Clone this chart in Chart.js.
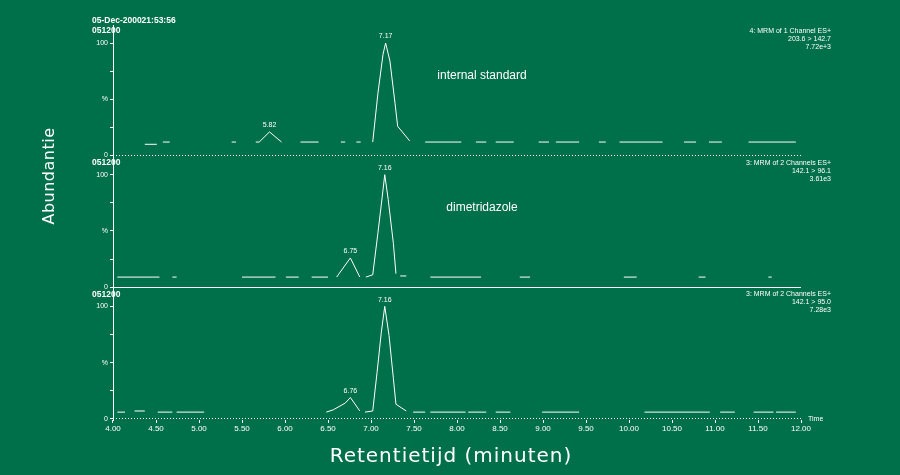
<!DOCTYPE html>
<html>
<head>
<meta charset="utf-8">
<title>Chromatogram</title>
<script src="https://cdn.jsdelivr.net/npm/chart.js@4.4.1/dist/chart.umd.min.js"></script>
<style>
  html, body { margin: 0; padding: 0; background: #00704a; }
  #wrap { position: relative; width: 900px; height: 475px; }
</style>
</head>
<body>
<div id="wrap"><canvas id="myChart" width="900" height="475"></canvas></div>
<script>
var G = null; // gap in a trace

// top trace: internal standard (times in minutes, abundance in %)
var times1 = [4.37, 4.51, G, 4.58, 4.66, G, 5.38, 5.43, G, 5.66, 5.70, 5.82, 5.96, G,
    6.18, 6.39, G, 6.65, 6.70, G, 6.83, 6.88, G,
    7.02, 7.08, 7.14, 7.17, 7.22, 7.28, 7.31, 7.45, G,
    7.63, 8.05, G, 8.22, 8.34, G, 8.45, 8.66, G, 8.95, 9.07, G, 9.15, 9.42, G,
    9.65, 9.73, G, 9.89, 10.39, G, 10.64, 10.78, G, 10.93, 11.08, G, 11.39, 11.94];
var values1 = [10, 10, G, 12, 12, G, 12, 12, G, 12, 12, 21, 12, G,
    12, 12, G, 12, 12, G, 12, 12, G,
    12, 55, 90, 100, 84, 46, 26, 13, G,
    12, 12, G, 12, 12, G, 12, 12, G, 12, 12, G, 12, 12, G,
    12, 12, G, 12, 12, G, 12, 12, G, 12, 12, G, 12, 12];

// middle trace: dimetridazole 142.1 > 96.1
var times2 = [4.05, 4.54, G, 4.69, 4.74, G, 5.50, 5.89, G, 6.01, 6.16, G, 6.31, 6.50, G,
    6.60, 6.76, 6.87, G,
    6.94, 7.02, 7.08, 7.13, 7.16, 7.20, 7.26, 7.29, G, 7.34, 7.41, G,
    7.69, 8.28, G, 8.73, 8.85, G, 9.94, 10.09, G, 10.81, 10.89, G, 11.62, 11.66];
var values2 = [9, 9, G, 9, 9, G, 9, 9, G, 9, 9, G, 9, 9, G,
    9, 26, 9, G,
    9, 11, 48, 80, 100, 78, 39, 12, G, 10, 10, G,
    9, 9, G, 9, 9, G, 9, 9, G, 9, 9, G, 9, 9];

// bottom trace: dimetridazole 142.1 > 95.0
var times3 = [4.05, 4.14, G, 4.25, 4.37, G, 4.52, 4.69, G, 4.74, 5.06, G,
    6.48, 6.56, 6.70, 6.76, 6.87, G,
    6.93, 7.02, 7.07, 7.12, 7.16, 7.21, 7.26, 7.29, 7.41, G,
    7.49, 7.63, G, 7.69, 8.10, G, 8.13, 8.34, G, 8.45, 8.62, G, 8.99, 9.42, G,
    10.18, 10.94, G, 11.06, 11.23, G, 11.45, 11.68, G, 11.71, 11.94];
var values3 = [6, 6, G, 7, 7, G, 6, 6, G, 6, 6, G,
    6, 8, 14, 19, 7, G,
    6, 7, 41, 77, 100, 74, 36, 13, 7, G,
    6, 6, G, 6, 6, G, 6, 6, G, 6, 6, G, 6, 6, G,
    6, 6, G, 6, 6, G, 6, 6, G, 6, 6];

// peak apex labels
var peakTimes1 = [5.82, 7.17];
var peakValues1 = [21, 100];
var peakLabels1 = ['5.82', '7.17'];
var peakTimes2 = [6.76, 7.16];
var peakValues2 = [26, 100];
var peakLabels2 = ['6.75', '7.16'];
var peakTimes3 = [6.76, 7.16];
var peakValues3 = [19, 100];
var peakLabels3 = ['6.76', '7.16'];

// header texts of each trace
var traceNames = ['internal standard', 'dimetridazole', ''];
var headerLeft = [['05-Dec-200021:53:56', '051200'], ['051200'], ['051200']];
var headerRight = [
    ['4: MRM of 1 Channel ES+', '203.6 > 142.7', '7.72e+3'],
    ['3: MRM of 2 Channels ES+', '142.1 > 96.1', '3.61e3'],
    ['3: MRM of 2 Channels ES+', '142.1 > 95.0', '7.28e3']
];

var xTitle = 'Retentietijd (minuten)';
var yTitle = 'Abundantie';
var FONT = '"Liberation Sans", Arial, sans-serif';
var TITLE_FONT = '"DejaVu Sans", sans-serif';

// turn time/value lists into points, null breaks the line
function toPoints(times, values) {
    var pts = [];
    for (var i = 0; i < times.length; i++) {
        if (times[i] === null) {
            pts.push({x: times[i - 1], y: null});
        } else {
            pts.push({x: times[i], y: values[i]});
        }
    }
    return pts;
}

function panelAxis(dashed) {
    return {
        type: 'linear',
        position: 'left',
        stack: 'panels',
        stackWeight: 1,
        min: -1,
        max: 116,
        afterBuildTicks: function(scale) {
            scale.ticks = [0, 25, 50, 75, 100].map(function(v) { return {value: v}; });
        },
        afterFit: function(scale) { scale.width = 22; },
        ticks: {
            color: 'white',
            autoSkip: false,
            padding: 2,
            font: {family: FONT, size: 7},
            callback: function(v) {
                if (v === 100) return '100';
                if (v === 50) return '%';
                if (v === 0) return '0';
                return '';
            }
        },
        grid: {
            drawOnChartArea: true,
            color: function(c) { return (c.tick && c.tick.value === 0) ? 'white' : 'rgba(0,0,0,0)'; },
            tickColor: 'white',
            tickLength: 3,
            lineWidth: 1
        },
        border: {display: true, color: 'white', width: 1, dash: dashed ? [1, 2] : []}
    };
}

function drawPeakLabels(ctx, xs, ys, times, vals, labels) {
    for (var i = 0; i < times.length; i++) {
        var px = xs.getPixelForValue(times[i]);
        var py = ys.getPixelForValue(vals[i]);
        ctx.fillText(labels[i], px, py - 3);
    }
}

// texts around the traces
var textPlugin = {
    id: 'chromTexts',
    afterDraw: function(chart) {
        var ctx = chart.ctx;
        var xs = chart.scales.x;
        var panels = [chart.scales.y1, chart.scales.y2, chart.scales.y3];
        ctx.save();
        ctx.fillStyle = 'white';

        // peak labels
        ctx.font = '7px ' + FONT;
        ctx.textAlign = 'center';
        ctx.textBaseline = 'bottom';
        drawPeakLabels(ctx, xs, chart.scales.y1, peakTimes1, peakValues1, peakLabels1);
        drawPeakLabels(ctx, xs, chart.scales.y2, peakTimes2, peakValues2, peakLabels2);
        drawPeakLabels(ctx, xs, chart.scales.y3, peakTimes3, peakValues3, peakLabels3);

        ctx.textBaseline = 'middle';
        for (var p = 0; p < 3; p++) {
            var top = panels[p].getPixelForValue(100);
            // compound name
            ctx.font = '12px ' + FONT;
            ctx.textAlign = 'center';
            if (traceNames[p]) ctx.fillText(traceNames[p], 482, top + 33);
            // left header
            ctx.font = 'bold 8.5px ' + FONT;
            ctx.textAlign = 'left';
            var lines = headerLeft[p];
            for (var i = 0; i < lines.length; i++) {
                ctx.fillText(lines[i], 92, top - 12 - (lines.length - 1 - i) * 10);
            }
            // right header
            ctx.font = '7px ' + FONT;
            ctx.textAlign = 'right';
            for (var j = 0; j < headerRight[p].length; j++) {
                ctx.fillText(headerRight[p][j], 831, top - 12 + j * 8);
            }
        }

        // "Time" at end of x axis
        ctx.font = '7px ' + FONT;
        ctx.textAlign = 'left';
        ctx.fillText('Time', xs.right + 7, chart.scales.y3.getPixelForValue(0));

        // axis titles
        ctx.font = '20px ' + TITLE_FONT;
        ctx.letterSpacing = '1px';
        ctx.textAlign = 'center';
        ctx.fillText(xTitle, 451, 457);

        ctx.font = '16px ' + TITLE_FONT;
        ctx.letterSpacing = '0.5px';
        ctx.translate(50, 176);
        ctx.rotate(-Math.PI / 2);
        ctx.fillText(yTitle, 0, 0);
        ctx.restore();
    }
};

window.addEventListener('DOMContentLoaded', function() {
    var ctx = document.getElementById('myChart');
    var lineStyle = {borderColor: 'white', borderWidth: 1, pointRadius: 0, tension: 0, spanGaps: false};

    new Chart(ctx, {
        type: 'line',
        data: {
            datasets: [
                Object.assign({label: 'internal standard', data: toPoints(times1, values1), yAxisID: 'y1'}, lineStyle),
                Object.assign({label: '142.1 > 96.1', data: toPoints(times2, values2), yAxisID: 'y2'}, lineStyle),
                Object.assign({label: '142.1 > 95.0', data: toPoints(times3, values3), yAxisID: 'y3'}, lineStyle)
            ]
        },
        options: {
            responsive: false,
            animation: false,
            layout: {padding: {left: 91, right: 99, top: 25, bottom: 0}},
            plugins: {legend: {display: false}, tooltip: {enabled: false}},
            scales: {
                x: {
                    type: 'linear',
                    min: 4,
                    max: 12,
                    afterFit: function(scale) { scale.height = 55; },
                    ticks: {
                        stepSize: 0.5,
                        color: 'white',
                        padding: 1,
                        maxRotation: 0,
                        autoSkip: false,
                        font: {family: FONT, size: 8},
                        callback: function(v) { return v.toFixed(2); }
                    },
                    grid: {drawOnChartArea: false, drawTicks: true, tickLength: 3, tickColor: 'white'},
                    border: {display: false}
                },
                // stacked panels: the first one listed ends up at the bottom
                y3: panelAxis(true),
                y2: panelAxis(false),
                y1: panelAxis(true)
            }
        },
        plugins: [textPlugin]
    });
});
</script>
</body>
</html>
